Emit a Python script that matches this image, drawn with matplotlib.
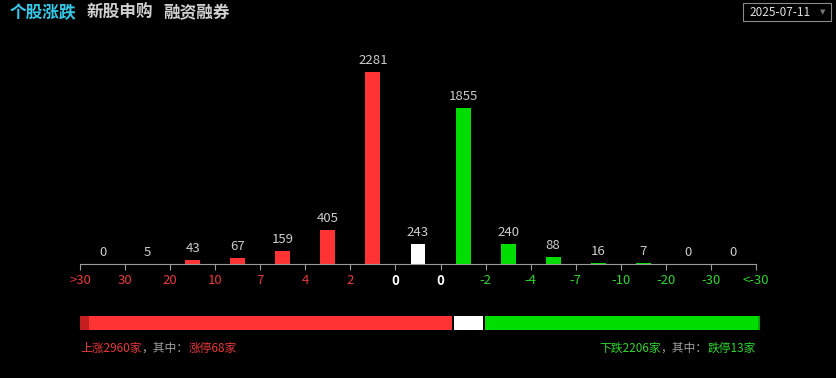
import numpy as np
import matplotlib as mpl
mpl.use('Agg')
import matplotlib.pyplot as plt
from matplotlib.patches import Rectangle

# data
bins = ['>30', '30', '20', '10', '7', '4', '2', '0', '0',
        '-2', '-4', '-7', '-10', '-20', '-30', '<-30']
counts = [0, 5, 43, 67, 159, 405, 2281, 243, 1855, 240, 88, 16, 7, 0, 0]
n_up = 2960
n_flat = 243
n_down = 2206
n_limit_up = 68
n_limit_down = 13
date_str = '2025-07-11'
tabs = ['个股涨跌', '新股申购', '融资融券']

# style
W, H = 836, 378
dpi = 100
bg = '#000000'
red = '#ff3333'
dkred = '#c41e1e'
green = '#00dd00'
dkgreen = '#00a800'
red_txt = '#e8383a'
green_txt = '#2ed62e'
val_col = '#cccccc'
fams = ['Noto Sans CJK SC', 'DejaVu Sans']
plt.rcParams['font.family'] = fams

fig = plt.figure(figsize=(W/dpi, H/dpi), dpi=dpi, facecolor=bg)

def fx(px):
    return px/W

def fy(py):
    return 1 - py/H

# histogram axes, pixel box
ax_l, ax_r, ax_b, ax_t = 80, 756, 264, 40
ax = fig.add_axes([fx(ax_l), fy(ax_b), fx(ax_r-ax_l), (ax_b-ax_t)/H])
ax.set_facecolor(bg)
nb = len(counts)
xs = np.arange(nb) + 0.5
cols = [red]*7 + ['#ffffff'] + [green]*7
ax.bar(xs, counts, width=0.33, color=cols)
units_per_px = 2281/192.0
ax.set_ylim(0, (ax_b-ax_t)*units_per_px)
ax.set_xlim(0, nb)
for x, v in zip(xs, counts):
    ax.text(x, v + 5*units_per_px, str(v), ha='center', va='bottom',
            color=val_col, fontsize=9.5)
for s in ['top', 'right', 'left']:
    ax.spines[s].set_visible(False)
ax.spines['bottom'].set_color('#9a9a9a')
ax.set_yticks([])
ax.set_xticks(np.arange(nb+1))
ax.set_xticklabels(bins, fontsize=9.5)
ax.tick_params(axis='x', colors='#9a9a9a', length=4, pad=3)
lab_cols = [red_txt]*7 + ['#ffffff']*2 + [green_txt]*7
for lab, c in zip(ax.get_xticklabels(), lab_cols):
    lab.set_color(c)
    if c == '#ffffff':
        lab.set_fontweight('bold')

# ratio bar
bx = fig.add_axes([fx(80), fy(330), fx(680), 14/H])
bx.set_facecolor(bg)
total = n_up + n_flat + n_down
gap = total*2/680.0
bx.barh(0, n_up, left=0, height=1, color=red)
bx.barh(0, n_limit_up, left=0, height=1, color=dkred)
bx.barh(0, n_flat - gap, left=n_up + gap, height=1, color='#ffffff')
bx.barh(0, n_down - gap, left=n_up + n_flat + gap, height=1, color=green)
bx.barh(0, n_limit_down, left=total - n_limit_down, height=1, color=dkgreen)
bx.set_xlim(0, total)
bx.set_ylim(-0.5, 0.5)
bx.axis('off')

# tabs
fig.canvas.draw()
r = fig.canvas.get_renderer()
x0 = 10
for i, t in enumerate(tabs):
    tt = fig.text(fx(x0), fy(13), t, fontsize=12, fontweight='bold',
                  color='#35c8e8' if i == 0 else '#d0d0d0', va='center')
    bb = tt.get_window_extent(r)
    x0 += bb.width + 10

# summary lines, pieces with different colours
def pieces(x_start, y, parts, right=False):
    objs = []
    for s, c in parts:
        objs.append(fig.text(0, fy(y), s, color=c, fontsize=8.5, va='center'))
    widths = [o.get_window_extent(r).width for o in objs]
    x = x_start - sum(widths) if right else x_start
    for o, w in zip(objs, widths):
        o.set_x(fx(x))
        x += w

pieces(80, 348, [('上涨%d家' % n_up, red_txt), ('，其中：', '#a0a0a0'),
                 ('涨停%d家' % n_limit_up, red_txt)])
pieces(756, 348, [('下跌%d家' % n_down, green_txt), ('，其中：', '#a0a0a0'),
                  ('跌停%d家' % n_limit_down, green_txt)], right=True)

# date box
fig.patches.append(Rectangle((fx(743), fy(21)), fx(88), 18/H,
                             transform=fig.transFigure, fill=False,
                             edgecolor='#8a8a8a', linewidth=0.8))
fig.text(fx(749), fy(12), date_str, color='#e0e0e0', fontsize=8.5,
         va='center', family=['Noto Sans CJK SC', 'DejaVu Sans'])
fig.text(fx(823), fy(12), '▼', color='#777777', fontsize=5,
         va='center', ha='center', family=['DejaVu Sans'])

fig.savefig('out.png', dpi=dpi, facecolor=bg)
plt.close('all')
